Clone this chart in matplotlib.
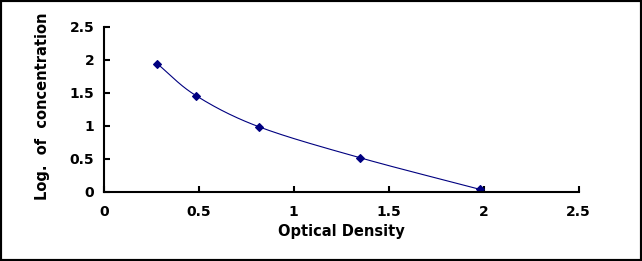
import numpy as np
import matplotlib
matplotlib.use("Agg")
import matplotlib.pyplot as plt
from matplotlib.patches import Rectangle

# data
od = [0.280, 0.485, 0.815, 1.348, 1.980]
logc = [1.94, 1.455, 0.985, 0.515, 0.036]
xticks = [0, 0.5, 1, 1.5, 2, 2.5]
yticks = [0, 0.5, 1, 1.5, 2, 2.5]
xlabels = ["0", "0.5", "1", "1.5", "2", "2.5"]
ylabels = ["0", "0.5", "1", "1.5", "2", "2.5"]

def catmull_rom(xs, ys, n=40, tension=0.5):
    xs = np.asarray(xs, float); ys = np.asarray(ys, float)
    P = np.column_stack([xs, ys])
    P = np.vstack([P[0] - (P[1] - P[0]), P, P[-1] + (P[-1] - P[-2])])
    out = []
    for i in range(1, len(P) - 2):
        p0, p1, p2, p3 = P[i-1], P[i], P[i+1], P[i+2]
        m1 = tension * (p2 - p0)
        m2 = tension * (p3 - p1)
        t = np.linspace(0, 1, n)[:, None]
        h00 = 2*t**3 - 3*t**2 + 1
        h10 = t**3 - 2*t**2 + t
        h01 = -2*t**3 + 3*t**2
        h11 = t**3 - t**2
        out.append(h00*p1 + h10*m1 + h01*p2 + h11*m2)
    c = np.vstack(out)
    return c[:, 0], c[:, 1]

plt.rcParams['font.family'] = ['DejaVu Sans']
fig = plt.figure(figsize=(6.42, 2.61), dpi=100)
fig.patches.append(Rectangle((0, 0), 1, 1, transform=fig.transFigure,
                             fill=False, edgecolor='black', linewidth=3, zorder=10))
L, R, B, T = 104/642, 578.5/642, 1 - 191.7/261, 1 - 26.7/261
ax = fig.add_axes([L, B, R - L, T - B])

cx, cy = catmull_rom(od, logc)
ax.plot(cx, cy, color='#000080', linewidth=0.8)
ax.plot(od, logc, linestyle='none', marker='D', markersize=3.8,
        color='#000080', markeredgecolor='#000080', markeredgewidth=0.8)

ax.set_xlim(0, 2.5)
ax.set_ylim(0, 2.5)
ax.set_xticks(xticks)
ax.set_xticklabels(xlabels)
ax.set_yticks(yticks)
ax.set_yticklabels(ylabels)
for s in ['top', 'right']:
    ax.spines[s].set_visible(False)
for s in ['left', 'bottom']:
    ax.spines[s].set_linewidth(1.5)
ax.tick_params(direction='in', length=4, width=1.5, labelsize=10)
ax.tick_params(axis='x', pad=9.5)
ax.tick_params(axis='y', pad=7)
for lab in ax.get_xticklabels() + ax.get_yticklabels():
    lab.set_fontweight('bold')
ax.set_xlabel('Optical Density', fontsize=10.5, fontweight='bold')
ax.set_ylabel('Log.  of  concentration', fontsize=10.5, fontweight='bold')
ax.xaxis.set_label_coords(0.5, -0.195)
ax.yaxis.set_label_coords(-0.1138, 0.52)

fig.savefig('out.png', dpi=100)
